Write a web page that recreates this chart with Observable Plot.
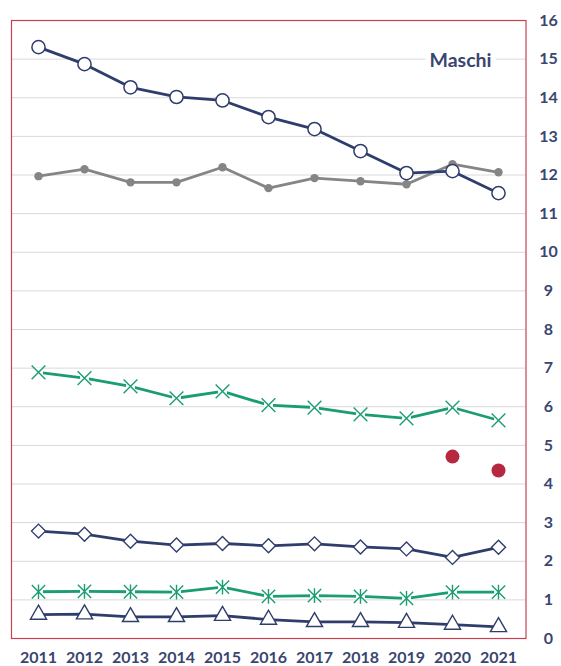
<!DOCTYPE html>
<html>
<head>
<meta charset="utf-8">
<script src="https://cdn.jsdelivr.net/npm/d3@7"></script>
<script src="https://cdn.jsdelivr.net/npm/@observablehq/plot@0.6"></script>
<style>
  html, body { margin: 0; padding: 0; background: #fff; }
  #chart { width: 561px; height: 666px; }
  svg { display: block; }
</style>
</head>
<body>
<div id="chart"></div>
<script>
const years = [2011, 2012, 2013, 2014, 2015, 2016, 2017, 2018, 2019, 2020, 2021];
const circleValues   = [15.31, 14.87, 14.27, 14.02, 13.93, 13.50, 13.19, 12.62, 12.05, 12.10, 11.53];
const grayValues     = [11.97, 12.15, 11.81, 11.81, 12.20, 11.66, 11.92, 11.84, 11.76, 12.28, 12.07];
const timesValues    = [6.89, 6.74, 6.53, 6.22, 6.40, 6.04, 5.98, 5.80, 5.70, 5.98, 5.65];
const redValues      = [null, null, null, null, null, null, null, null, null, 4.71, 4.35];
const diamondValues  = [2.78, 2.70, 2.52, 2.42, 2.46, 2.40, 2.45, 2.37, 2.32, 2.10, 2.36];
const asteriskValues = [1.21, 1.22, 1.21, 1.20, 1.33, 1.09, 1.11, 1.09, 1.04, 1.20, 1.20];
const triangleValues = [0.62, 0.63, 0.56, 0.56, 0.59, 0.49, 0.43, 0.43, 0.41, 0.36, 0.30];
const yTicks = [0, 1, 2, 3, 4, 5, 6, 7, 8, 9, 10, 11, 12, 13, 14, 15, 16];
const gridTicks = [1, 2, 3, 4, 5, 6, 7, 8, 9, 10, 11, 12, 13, 14, 15];
const titleText = "Maschi";

const NAVY = "#2f3d6c";
const TEXT = "#3a4670";
const GRAY = "#858585";
const GREEN = "#1b9d72";
const RED = "#b5283f";
const FRAME = "#c9404f";

const toRows = (vals) => years.map((year, i) => ({year, value: vals[i]})).filter(d => d.value != null);
const circles = toRows(circleValues);
const grays = toRows(grayValues);
const timesRows = toRows(timesValues);
const reds = toRows(redValues);
const diamonds = toRows(diamondValues);
const asterisks = toRows(asteriskValues);
const triangles = toRows(triangleValues);

// Excel-like "star" marker: X plus vertical bar
const starSymbol = {
  draw(context, size) {
    const r = Math.sqrt(size / Math.PI) * 1.15;
    context.moveTo(-r, -r); context.lineTo(r, r);
    context.moveTo(-r, r); context.lineTo(r, -r);
    context.moveTo(0, -r * 1.1); context.lineTo(0, r * 1.1);
  }
};

const chart = Plot.plot({
  width: 561,
  height: 666,
  marginLeft: 11,
  marginRight: 35.5,
  marginTop: 20,
  marginBottom: 28,
  style: {fontFamily: "Lato, 'Open Sans', sans-serif", background: "#fff"},
  x: {type: "point", domain: years, padding: 0.5, label: null},
  y: {domain: [0, 16], label: null},
  marks: [
    Plot.ruleY(gridTicks, {stroke: "#d9d9d9", strokeWidth: 1}),
    Plot.axisY({anchor: "right", ticks: yTicks, tickSize: 0, tickPadding: 22.5, textAnchor: "middle",
      fontSize: 16, fontWeight: "bold", fill: TEXT, label: null}),
    Plot.axisX({anchor: "bottom", tickSize: 0, tickPadding: 13, tickFormat: d => String(d),
      fontSize: 16, fontWeight: "bold", fill: TEXT, label: null}),
    Plot.text([titleText], {frameAnchor: "top-right", dx: -34.5, dy: 40, lineAnchor: "middle", textAnchor: "end",
      fontSize: 19.5, fontWeight: "bold", fill: TEXT, stroke: "#fff", strokeWidth: 11, paintOrder: "stroke"}),
    Plot.frame({stroke: FRAME, strokeWidth: 1.2}),

    // gray series
    Plot.line(grays, {x: "year", y: "value", stroke: GRAY, strokeWidth: 2.8}),
    Plot.dot(grays, {x: "year", y: "value", r: 4.2, fill: GRAY, stroke: "none"}),

    // navy circles
    Plot.line(circles, {x: "year", y: "value", stroke: NAVY, strokeWidth: 2.8}),
    Plot.dot(circles, {x: "year", y: "value", r: 6.6, fill: "#fff", stroke: NAVY, strokeWidth: 1.5}),

    // green X
    Plot.line(timesRows, {x: "year", y: "value", stroke: GREEN, strokeWidth: 2.8}),
    Plot.dot(timesRows, {x: "year", y: "value", symbol: "square", r: 5, fill: "#fff", stroke: "none"}),
    Plot.dot(timesRows, {x: "year", y: "value", symbol: "times", r: 6.3, fill: "none", stroke: GREEN, strokeWidth: 1.4}),

    // red dots
    Plot.dot(reds, {x: "year", y: "value", r: 7, fill: RED, stroke: "none"}),

    // navy diamonds
    Plot.line(diamonds, {x: "year", y: "value", stroke: NAVY, strokeWidth: 2.8}),
    Plot.dot(diamonds, {x: "year", y: "value", symbol: "diamond2", r: 6.3, fill: "#fff", stroke: NAVY, strokeWidth: 1.4}),

    // green asterisks
    Plot.line(asterisks, {x: "year", y: "value", stroke: GREEN, strokeWidth: 2.8}),
    Plot.dot(asterisks, {x: "year", y: "value", symbol: "square", r: 5, fill: "#fff", stroke: "none"}),
    Plot.dot(asterisks, {x: "year", y: "value", symbol: starSymbol, r: 5.8, fill: "none", stroke: GREEN, strokeWidth: 1.4}),

    // navy triangles
    Plot.line(triangles, {x: "year", y: "value", stroke: NAVY, strokeWidth: 2.8}),
    Plot.dot(triangles, {x: "year", y: "value", symbol: "triangle", r: 6, fill: "#fff", stroke: NAVY, strokeWidth: 1.4})
  ]
});
document.getElementById("chart").appendChild(chart);
</script>
</body>
</html>
